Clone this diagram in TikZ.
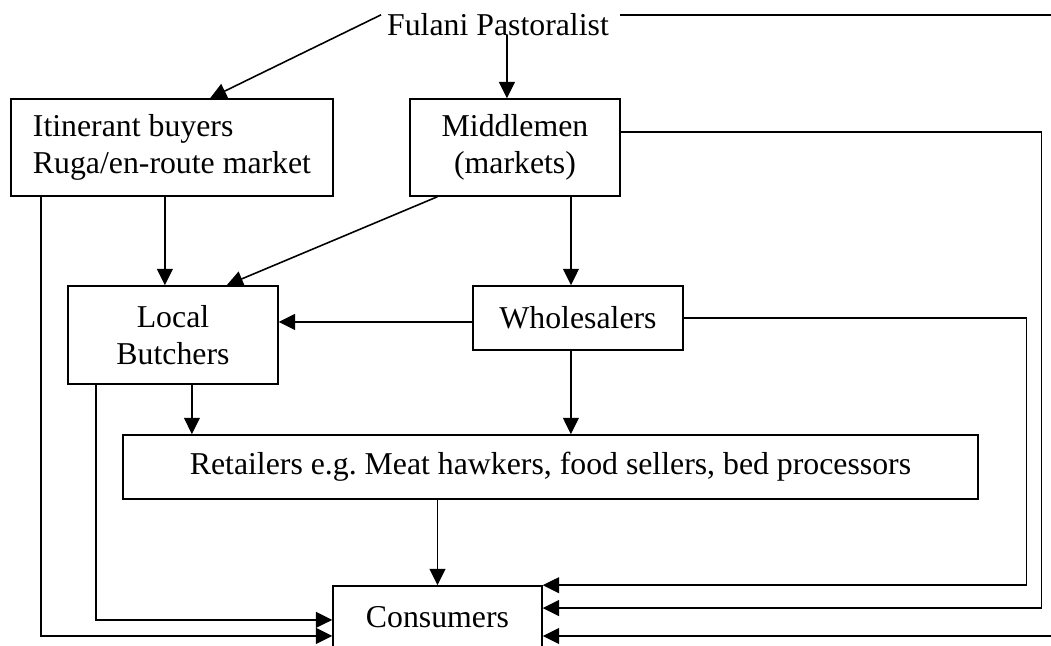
\documentclass[tikz,border=0pt]{standalone}
\usepackage{fontspec}
\setmainfont{Liberation Serif}
\usetikzlibrary{arrows.meta}
\begin{document}
\begin{tikzpicture}[x=0.3806pt,y=-0.3806pt,line width=0.6pt,
  box/.style={draw, inner sep=0pt, align=center},
  arr/.style={-{Triangle[length=6.2pt,width=6pt]}},
  font=\fontsize{12.1}{14}\selectfont]
\path[use as bounding box] (0,0) rectangle (1051,646);
\clip (0,0) rectangle (1051,646);
\node[inner sep=0pt, anchor=base] (fulani) at (498,35) {Fulani Pastoralist};
\node[box, align=left, minimum width=122.6pt, minimum height=36.9pt] (itin) at (172,147.5) {Itinerant buyers\\Ruga/en-route market};
\node[box, minimum width=79.9pt, minimum height=36.9pt] (mid) at (515,147.5) {Middlemen\\(markets)};
\node[box, minimum width=79.9pt, minimum height=37.3pt] (butch) at (173,335) {Local\\Butchers};
\node[box, minimum width=79.9pt, minimum height=24.4pt] (whole) at (578,318) {Wholesalers};
\node[box, minimum width=325.4pt, minimum height=24.4pt] (retail) at (550.5,467) {Retailers e.g.\ Meat hawkers, food sellers, bed processors};
\node[box, minimum width=79.5pt, minimum height=23.6pt] (cons) at (437.5,617) {Consumers};
\coordinate (topedge) at (1051,15);
\coordinate (botedge) at (1051,636);
\draw[arr] ([xshift=3.4pt]fulani.base) -- ([xshift=3.4pt]fulani.base |- mid.north);
\draw[arr] ([xshift=-2pt,yshift=-1pt]fulani.north west) -- ([xshift=14.5pt]itin.north);
\draw[] ([xshift=4pt]fulani.north east |- topedge) -- (topedge);
\draw[arr] (botedge) -- (botedge -| cons.east);
\draw[arr] ([xshift=-2.7pt]itin.south) -- ([xshift=-2.7pt]itin.south |- butch.north);
\draw[arr] ([xshift=11.8pt]itin.south west) |- ([yshift=-7.2pt]cons.west);
\draw[arr] ([xshift=11pt]butch.south west) |- ([yshift=-1.1pt]cons.west);
\draw[arr] ([xshift=7.2pt]butch.south) -- ([xshift=7.2pt]butch.south |- retail.north);
\draw[arr] ([xshift=10.7pt]mid.south west) -- ([xshift=-19.8pt]butch.north east);
\draw[arr] ([xshift=21.3pt]mid.south) -- ([xshift=21.3pt]mid.south |- whole.north);
\draw[arr] ([yshift=5.9pt]mid.east) -| ([xshift=189.9pt,yshift=3.4pt]cons.east) -- ([yshift=3.4pt]cons.east);
\draw[arr] (whole.east) -| ([xshift=184.2pt]cons.north east) -- (cons.north east);
\draw[arr] ([yshift=-1.5pt]whole.west) -- ([yshift=-1.5pt]whole.west -| butch.east);
\draw[arr] ([xshift=-2.7pt]whole.south) -- ([xshift=-2.7pt]whole.south |- retail.north);
\draw[arr] (retail.south -| cons.north) -- (cons.north);
\end{tikzpicture}
\end{document}
